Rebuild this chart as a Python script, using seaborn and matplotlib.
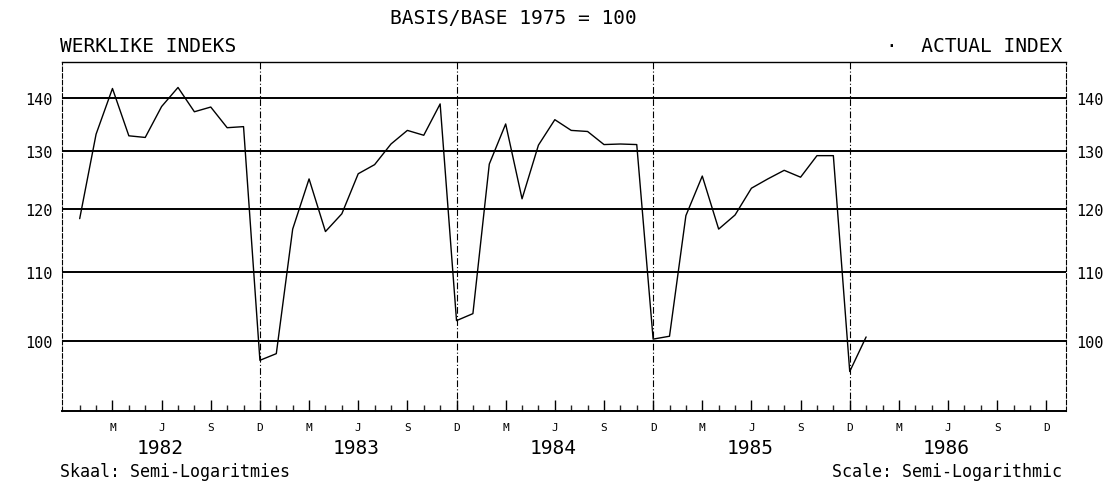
import numpy as np
import pandas as pd
import matplotlib
matplotlib.use("Agg")
import matplotlib.pyplot as plt
import matplotlib.ticker as mticker
import matplotlib.transforms as mtrans
import seaborn as sns

# ---- data (monthly, Jan 1982 .. Jan 1986) ----
index_1982 = [118.4, 133.1, 141.8, 132.8, 132.5, 138.3, 142.0, 137.3, 138.2, 134.3, 134.5, 97.3]
index_1983 = [98.2, 116.7, 125.1, 116.3, 119.2, 126.0, 127.6, 131.3, 133.8, 132.9, 138.8, 102.8]
index_1984 = [103.8, 127.7, 135.0, 121.7, 131.1, 135.8, 133.8, 133.6, 131.2, 131.3, 131.2, 100.2]
index_1985 = [100.6, 118.9, 125.6, 116.7, 119.0, 123.5, 125.1, 126.6, 125.4, 129.2, 129.2, 95.8]
index_1986 = [100.5]

years = ["1982", "1983", "1984", "1985", "1986"]
month_labels = ["M", "J", "S", "D"]
y_ticks = [100, 110, 120, 130, 140]

values = index_1982 + index_1983 + index_1984 + index_1985 + index_1986
df = pd.DataFrame({"month": np.arange(len(values)), "index": values})

sns.set_theme(style="white")
plt.rcParams["font.family"] = ["DejaVu Sans Mono"]

fig = plt.figure(figsize=(11.13, 4.89), dpi=100)
ax = fig.add_axes([62 / 1113, 77 / 489, (1066 - 62) / 1113, (412 - 63) / 489])

sns.lineplot(data=df, x="month", y="index", ax=ax, color="black", linewidth=1.0)

ax.set_yscale("log")
ax.set_ylim(90.7, 147.1)
ax.set_xlim(-1.08, 60.2)

# horizontal grid lines
for v in y_ticks:
    ax.axhline(v, color="black", linewidth=1.4, zorder=1)
# vertical year separators (December)
for k in range(4):
    ax.axvline(11 + 12 * k, color="black", linewidth=0.8, linestyle=(0, (6, 2, 1, 2)), zorder=1)

ax.yaxis.set_major_locator(mticker.FixedLocator(y_ticks))
ax.yaxis.set_major_formatter(mticker.FixedFormatter([str(v) for v in y_ticks]))
ax.yaxis.set_minor_locator(mticker.NullLocator())
ax.tick_params(axis="y", length=0, labelsize=11, labelleft=True, labelright=True,
               pad=7, colors="black")

# x ticks: months
quarter_pos = [2 + 3 * i for i in range(20)]
ax.xaxis.set_major_locator(mticker.FixedLocator(quarter_pos))
ax.xaxis.set_major_formatter(mticker.FixedFormatter([month_labels[i % 4] for i in range(20)]))
ax.xaxis.set_minor_locator(mticker.FixedLocator(list(range(0, 60))))
ax.tick_params(axis="x", which="major", direction="in", length=8, width=1.0,
               labelsize=8, pad=8, colors="black", bottom=True)
ax.tick_params(axis="x", which="minor", direction="in", length=4, width=1.0, bottom=True)
ax.set_xlabel("")
ax.set_ylabel("")

# spines
for s in ["left", "right"]:
    ax.spines[s].set_linestyle((0, (4, 2)))
    ax.spines[s].set_linewidth(0.8)
    ax.spines[s].set_color("black")
ax.spines["top"].set_linewidth(1.0)
ax.spines["top"].set_color("black")
ax.spines["bottom"].set_linewidth(1.4)
ax.spines["bottom"].set_color("black")

# year labels
trans = mtrans.blended_transform_factory(ax.transData, fig.transFigure)
for i, y in enumerate(years):
    ax.text(4.9 + 12 * i, 1 - 449 / 489, y, transform=trans, ha="center", va="center",
            fontsize=14, color="black")

# texts
fig.text(513 / 1113, 1 - 18 / 489, "BASIS/BASE 1975 = 100", ha="center", va="center",
         fontsize=14, color="black")
fig.text(60 / 1113, 1 - 46 / 489, "WERKLIKE INDEKS", ha="left", va="center",
         fontsize=14, color="black")
fig.text(1062 / 1113, 1 - 46 / 489, "·  ACTUAL INDEX", ha="right", va="center",
         fontsize=14, color="black")
fig.text(60 / 1113, 1 - 472 / 489, "Skaal: Semi-Logaritmies", ha="left", va="center",
         fontsize=12, color="black")
fig.text(1062 / 1113, 1 - 472 / 489, "Scale: Semi-Logarithmic", ha="right", va="center",
         fontsize=12, color="black")

fig.savefig("out.png", dpi=100, facecolor="white")
